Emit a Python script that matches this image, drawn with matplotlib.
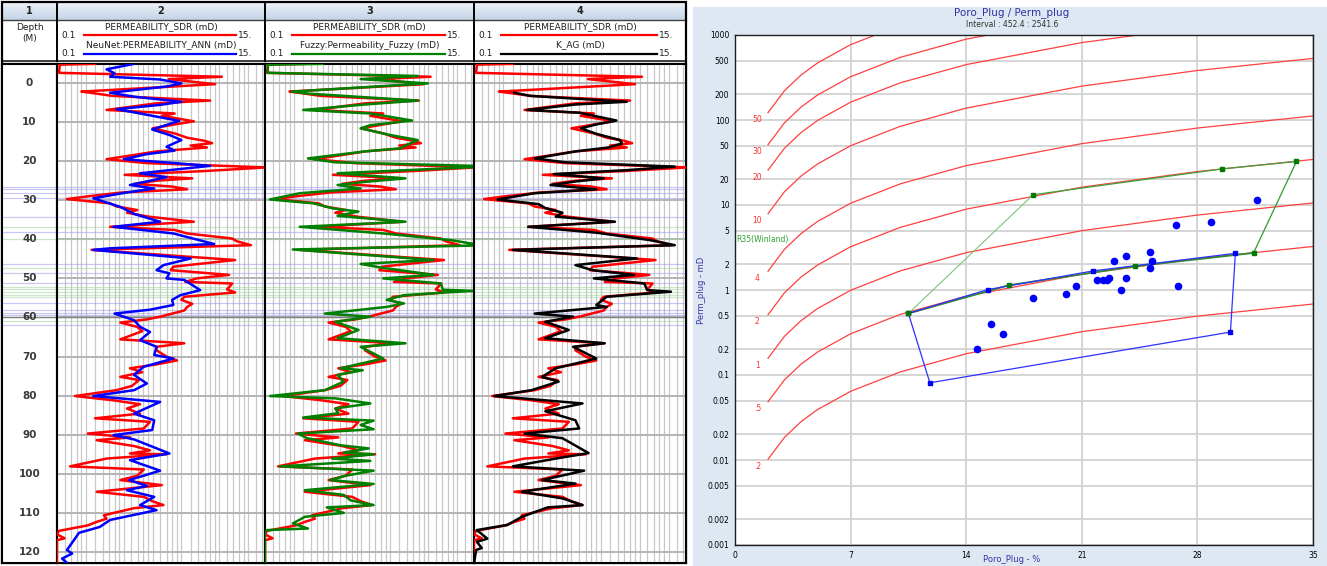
import numpy as np
import matplotlib
matplotlib.use("Agg")
import matplotlib.pyplot as plt
from matplotlib.patches import Rectangle

# ---------------------------------------------------------------- log data
# depth (m) / permeability (mD) pairs
sdr_depth = [-4.9, -4.7, -2.6, -1.6, -1.0, 0.3, 2.2, 2.6, 3.3, 4.5, 5.2, 6.9, 7.8, 8.4, 9.8,
             10.5, 11.6, 12.9, 14.0, 14.8, 15.4, 16.0, 16.5, 17.5, 18.5, 19.5, 20.5, 21.6,
             22.5, 23.5, 24.4, 25.0, 25.8, 26.5, 27.2, 28.0, 29.0, 29.7, 30.8, 31.6, 32.5,
             33.2, 34.2, 35.5, 36.8, 37.6, 38.5, 39.8, 40.5, 41.5, 42.7, 45.3, 47.0, 47.9,
             49.1, 50.0, 50.9, 51.3, 52.3, 52.8, 53.6, 54.7, 55.5, 56.5, 57.3, 58.2, 59.8,
             60.5, 61.3, 62.4, 63.5, 65.6, 66.6, 67.5, 68.4, 70.0, 71.0, 72.0, 73.0, 74.0,
             75.2, 76.0, 77.5, 78.6, 80.1, 81.2, 82.2, 83.3, 84.6, 85.8, 86.7, 88.4, 89.7,
             90.7, 91.4, 92.9, 94.0, 94.8, 95.0, 96.1, 98.1, 98.9, 100.5, 101.6, 102.9,
             104.6, 105.9, 107.0, 108.0, 108.8, 110.6, 111.5, 112.3, 113.2, 114.6, 115.5,
             116.5, 117.0, 123.0]
sdr_perm = [0.25, 0.107, 0.105, 5.3, 1.48, 4.5, 0.18, 0.24, 0.38, 4.0, 1.1, 0.33, 1.7, 1.25, 2.7,
            1.8, 1.0, 1.7, 2.3, 3.5, 4.2, 2.5, 3.7, 1.1, 0.61, 0.33, 0.87, 15.5,
            3.7, 0.51, 2.6, 1.1, 0.64, 1.6, 2.3, 0.48, 0.21, 0.127, 0.36, 0.42, 0.69,
            0.54, 0.91, 2.7, 0.36, 1.7, 2.3, 6.8, 7.6, 10.7, 0.23, 7.3, 1.65, 1.55,
            6.3, 2.9, 2.2, 6.8, 6.3, 6.0, 7.3, 2.15, 2.0, 2.6, 2.3, 2.15, 1.2,
            0.87, 0.46, 0.69, 0.78, 0.46, 2.15, 1.1, 1.1, 1.4, 1.8, 1.1, 0.58, 0.78,
            0.46, 0.72, 0.61, 0.42, 0.154, 0.39, 0.74, 0.54, 0.74, 0.25, 0.94, 0.81, 0.21,
            0.58, 0.26, 0.64, 0.94, 0.58, 1.4, 0.33, 0.137, 0.81, 0.69, 0.46, 1.25,
            0.26, 0.81, 0.99, 1.3, 0.64, 0.31, 0.33, 0.26, 0.21, 0.105, 0.10,
            0.12, 0.10, 0.10]

ann_depth = [-4.9, -3.5, -2.5, -1.6, -0.9, 0.1, 0.9, 2.5, 3.5, 4.8, 5.6, 6.7, 7.8, 9.7, 11.9,
             13.3, 14.6, 16.3, 17.3, 18.2, 19.5, 21.2, 23.1, 24.1, 26.1, 27.0, 28.0, 29.5,
             31.7, 33.5, 35.5, 36.8, 38.5, 41.2, 42.3, 42.7, 44.9, 46.6, 47.9, 48.7, 50.0,
             50.4, 53.0, 54.3, 55.5, 56.8, 58.0, 59.0, 60.7, 62.4, 63.7, 65.8, 67.5, 69.6,
             70.5, 72.6, 74.7, 76.9, 78.6, 80.1, 81.6, 84.6, 86.3, 88.8, 90.1, 91.2, 94.8,
             96.5, 99.2, 101.6, 103.1, 104.2, 105.9, 108.0, 109.3, 111.8, 113.6, 115.1,
             117.0, 119.5, 120.4, 121.7, 123.0]
ann_perm = [0.64, 0.33, 0.40, 0.36, 1.2, 2.0, 1.4, 0.36, 0.64, 2.0, 1.2, 0.42, 0.74, 1.9, 0.99,
            1.5, 2.0, 1.4, 1.7, 0.87, 0.5, 4.0, 0.74, 1.4, 0.58, 1.04, 0.54, 0.24,
            0.46, 0.64, 1.2, 0.39, 1.65, 4.4, 0.36, 0.24, 2.5, 1.3, 1.1, 1.5, 1.4,
            2.15, 3.15, 1.95, 1.6, 1.65, 0.94, 0.40, 0.64, 0.74, 0.94, 0.74, 1.1, 1.04,
            1.65, 0.81, 0.64, 0.87, 0.64, 0.24, 1.2, 0.64, 1.04, 0.99, 0.39, 0.64, 1.5,
            0.58, 1.2, 0.57, 0.87, 0.54, 1.04, 0.74, 1.1, 0.36, 0.28, 0.17,
            0.15, 0.127, 0.144, 0.113, 0.13]

fuzzy_depth = [-4.9, -4.7, -2.6, -1.8, -1.0, 0.1, 2.2, 2.7, 4.5, 5.5, 6.9, 7.8, 9.6, 10.8, 11.6,
               13.3, 14.6, 16.0, 16.7, 17.5, 19.3, 20.3, 21.2, 21.5, 22.2, 23.1, 24.4, 25.3,
               26.1, 27.0, 28.2, 29.8, 30.8, 32.1, 32.9, 34.0, 35.5, 36.8, 38.5, 40.2, 41.2,
               41.6, 42.6, 45.3, 46.3, 47.2, 49.1, 50.0, 51.3, 52.9, 53.2, 53.6, 54.3, 55.5,
               56.4, 57.3, 59.0, 59.8, 61.1, 63.2, 65.3, 66.6, 67.5, 70.5, 73.0, 73.5, 74.7,
               76.4, 78.6, 80.1, 80.7, 82.0, 83.3, 84.5, 85.6, 86.4, 87.5, 88.6, 89.7, 90.9,
               92.7, 93.5, 94.6, 95.0, 96.1, 96.7, 98.1, 99.2, 100.5, 101.6, 102.6, 104.2,
               105.4, 106.8, 108.0, 108.6, 110.0, 111.0, 112.7, 114.0, 114.4, 115.0, 123.0]
fuzzy_perm = [0.40, 0.107, 0.107, 3.9, 0.99, 4.95, 0.19, 0.275, 3.9, 1.1, 0.25, 1.25, 3.4, 1.25, 0.99,
              2.0, 3.9, 2.9, 2.6, 1.1, 0.28, 0.54, 15.0, 15.0, 3.7, 0.57, 2.9, 1.1,
              0.57, 0.99, 0.23, 0.113, 0.32, 0.51, 0.94, 0.57, 2.9, 0.23, 1.7, 8.6, 15.0,
              14.5, 0.195, 5.7, 0.99, 1.6, 5.7, 1.7, 6.8, 7.1, 15.0, 7.6, 2.8, 1.85,
              2.8, 1.85, 0.42, 1.25, 0.54, 0.94, 0.57, 2.9, 0.99, 1.7, 0.61, 1.04, 0.57,
              0.66, 0.42, 0.113, 0.54, 1.25, 0.54, 0.58, 0.25, 1.35, 0.99, 1.35, 0.22, 0.275,
              0.61, 1.2, 0.66, 1.35, 0.50, 1.25, 0.144, 1.35, 0.69, 0.48, 1.35, 0.26,
              0.66, 0.78, 1.35, 0.44, 0.66, 0.26, 0.195, 0.28, 0.105, 0.10, 0.10]

kag_depth = [2.5, 3.3, 4.8, 5.5, 6.9, 7.6, 9.6, 10.6, 11.6, 13.0, 14.6, 15.5, 16.5, 17.5, 19.3,
             20.3, 21.4, 22.3, 23.3, 24.4, 25.2, 26.1, 27.2, 28.2, 29.8, 31.0, 32.0, 33.2,
             34.2, 35.5, 36.8, 38.3, 40.2, 41.5, 42.7, 44.9, 46.6, 47.9, 49.1, 50.0, 51.3,
             53.0, 53.4, 54.7, 56.8, 57.3, 59.0, 59.8, 61.1, 63.2, 65.3, 66.6, 67.5, 70.5,
             73.0, 75.2, 76.4, 78.6, 80.1, 82.0, 84.0, 86.3, 88.4, 89.7, 90.9, 94.7, 96.1,
             98.1, 99.2, 101.6, 102.5, 104.6, 106.3, 108.0, 108.6, 111.0, 113.1, 114.4,
             116.6, 117.4, 119.0, 119.5, 123.0]
kag_perm = [0.26, 0.38, 3.7, 1.1, 0.35, 1.2, 2.9, 1.8, 1.25, 1.8, 3.15, 3.3, 2.4, 1.1, 0.42,
            0.87, 11.5, 3.7, 0.66, 2.15, 1.1, 0.61, 1.8, 0.42, 0.175, 0.46, 0.54, 0.81,
            0.69, 2.8, 0.36, 1.8, 6.4, 11.5, 0.25, 4.7, 1.1, 1.65, 4.4, 1.7, 5.6,
            6.0, 10.5, 2.3, 1.8, 2.3, 0.42, 1.04, 0.54, 0.94, 0.54, 2.2, 1.04, 1.8,
            0.69, 0.50, 0.74, 0.39, 0.162, 1.3, 0.54, 1.1, 1.2, 0.33, 0.81, 1.5, 0.69,
            0.25, 1.35, 0.50, 1.1, 0.31, 0.81, 1.3, 0.57, 0.31, 0.22, 0.107,
            0.137, 0.107, 0.12, 0.105, 0.10]

# core sample depths flagged across the tracks
core_blue_depths = [26.5, 27.2, 28.1, 29.5, 34.2, 38.0, 46.2, 48.7, 51.3, 56.4, 58.1, 58.8, 59.4, 62.0]
core_green_depths = [36.8, 40.0, 47.4, 52.1, 52.8, 53.4, 54.3, 54.7, 59.9, 61.0]
depth_labels = list(range(0, 130, 10))

# ---------------------------------------------------------------- crossplot data
plug_poro = [31.6, 28.8, 26.7, 25.15, 23.7, 22.95, 25.25, 25.15, 23.65, 22.65, 22.5, 22.3,
             21.9, 26.8, 20.65, 20.05, 23.35, 18.05, 15.5, 16.25, 14.65]
plug_perm = [11.5, 6.35, 5.85, 2.8, 2.5, 2.2, 2.2, 1.8, 1.4, 1.4, 1.3, 1.3,
             1.3, 1.1, 1.1, 0.9, 1.0, 0.8, 0.4, 0.3, 0.2]

blue_poly_poro = [10.5, 15.3, 21.7, 30.3, 30.0, 11.8, 10.5]
blue_poly_perm = [0.53, 1.01, 1.68, 2.7, 0.32, 0.081, 0.53]
green_poly_poro = [10.5, 16.6, 24.2, 31.4, 34.0, 29.5, 18.05]
green_poly_perm = [0.53, 1.14, 1.9, 2.73, 32.5, 26.6, 13.2]

r35_values = [0.2, 0.5, 1, 2, 4, 10, 20, 30, 50]
r35_labels = [".2", ".5", "1", "2", "4", "10", "20", "30", "50"]
r35_poro_nodes = [2, 3, 4, 5, 7, 10, 14, 21, 28, 35]

perm_ticks = [1000, 500, 200, 100, 50, 20, 10, 5, 2, 1, 0.5, 0.2, 0.1, 0.05, 0.02, 0.01,
              0.005, 0.002, 0.001]
perm_tick_labels = ["1000", "500", "200", "100", "50", "20", "10", "5", "2", "1", "0.5", "0.2",
                    "0.1", "0.05", "0.02", "0.01", "0.005", "0.002", "0.001"]
poro_ticks = [0, 7, 14, 21, 28, 35]

# vertical grid of the permeability tracks (mD)
track_grid = [0.12, 0.14, 0.16, 0.18, 0.2, 0.25, 0.3, 0.35, 0.4, 0.45, 0.5, 0.6, 0.7, 0.8, 0.9,
              1.0, 1.2, 1.4, 1.6, 1.8, 2.0, 2.5, 3.0, 3.5, 4.0, 4.5, 5.0, 6.0, 7.0, 8.0, 9.0,
              10.0, 12.0, 14.0]

# ---------------------------------------------------------------- figure
W, H = 1327, 566
fig = plt.figure(figsize=(W / 100, H / 100), dpi=100)
plt.rcParams['font.family'] = ['DejaVu Sans']


def pax(x0, y0, x1, y1, **kw):
    return fig.add_axes([x0 / W, 1 - y1 / H, (x1 - x0) / W, (y1 - y0) / H], **kw)


bg = pax(0, 0, W, H)
bg.set_xlim(0, W)
bg.set_ylim(H, 0)
bg.axis('off')

# ---- log layout header
track_x = [2, 57, 265, 474, 686]
hdr_cmap = matplotlib.colors.LinearSegmentedColormap.from_list('hdr', ['#eaf0f7', '#c4d4e6'])
for i in range(4):
    x0, x1 = track_x[i], track_x[i + 1]
    grad = np.linspace(0, 1, 20).reshape(-1, 1)
    bg.imshow(grad, extent=(x0, x1, 20, 3), cmap=hdr_cmap, aspect='auto', zorder=1)
    bg.text((x0 + x1) / 2, 11.5, str(i + 1), ha='center', va='center', fontsize=7,
            fontweight='bold', color='#202020', zorder=3)
bg.add_patch(Rectangle((2, 2), 684, 561, fill=False, lw=1.6, ec='black', zorder=5))
bg.plot([2, 686], [20, 20], color='#404040', lw=1, zorder=4)
bg.plot([2, 686], [61, 61], color='#303030', lw=1.3, zorder=4)
bg.plot([2, 686], [64, 64], color='#303030', lw=1.3, zorder=4)
bg.add_patch(Rectangle((2, 61), 684, 3, color='#e6e6e6', zorder=2))
for x in track_x[1:-1]:
    bg.plot([x, x], [2, 61], color='black', lw=1.4, zorder=4)

bg.text(29.5, 27.5, "Depth", ha='center', va='center', fontsize=6.5, color='#202020')
bg.text(29.5, 38, "(M)", ha='center', va='center', fontsize=6.5, color='#202020')

hdr = [
    ("PERMEABILITY_SDR (mD)", "red", "NeuNet:PERMEABILITY_ANN (mD)", "blue"),
    ("PERMEABILITY_SDR (mD)", "red", "Fuzzy:Permeability_Fuzzy (mD)", "green"),
    ("PERMEABILITY_SDR (mD)", "red", "K_AG (mD)", "black"),
]
for i, (n1, c1, n2, c2) in enumerate(hdr):
    x0, x1 = track_x[i + 1], track_x[i + 2]
    xc = (x0 + x1) / 2
    for (name, col, yt, yl) in [(n1, c1, 27, 35), (n2, c2, 45, 54)]:
        bg.text(xc, yt, name, ha='center', va='center', fontsize=6.5, color='#202020')
        bg.text(x0 + 12, yl, "0.1", ha='center', va='center', fontsize=6.5, color='#202020')
        bg.text(x1 - 20, yl, "15.", ha='center', va='center', fontsize=6.5, color='#202020')
        bg.plot([x0 + 27, x1 - 29], [yl, yl], color=col, lw=1.6)

# ---- log tracks
D_TOP = (64 - 83) / 3.908
D_BOT = (563 - 83) / 3.908

t1 = pax(2, 64, 57, 563)
tracks = [pax(57, 64, 265, 563), pax(265, 64, 474, 563), pax(474, 64, 686, 563)]
for ax in [t1] + tracks:
    ax.set_ylim(D_BOT, D_TOP)
    ax.set_xticks([])
    ax.set_yticks([])
    for s in ax.spines.values():
        s.set_linewidth(1.5)
        s.set_color('black')
    for d in core_blue_depths:
        ax.axhline(d, color='#9c9cf0', lw=0.9, alpha=0.55, zorder=1)
    for d in core_green_depths:
        ax.axhline(d, color='#9fd49f', lw=0.9, alpha=0.55, zorder=1)
    ax.axhline(60, color='#808080', lw=1.0, zorder=1)

t1.set_xlim(0, 1)
for d in depth_labels:
    t1.text(0.5, d, str(d), ha='center', va='center', fontsize=7.5, fontweight='bold',
            color='#3a3a3a')

curve_sets = [
    [(sdr_depth, sdr_perm, 'red'), (ann_depth, ann_perm, 'blue')],
    [(sdr_depth, sdr_perm, 'red'), (fuzzy_depth, fuzzy_perm, 'green')],
    [(sdr_depth, sdr_perm, 'red'), (kag_depth, kag_perm, 'black')],
]
for ax, curves in zip(tracks, curve_sets):
    ax.set_xscale('log')
    ax.set_xlim(0.1, 15)
    ax.set_xticks([])
    ax.set_xticks([], minor=True)
    for g in track_grid:
        ax.axvline(g, color='#c8c8c8', lw=0.9, zorder=0)
    for d in range(0, 130, 10):
        ax.axhline(d, color='#b4b4b4', lw=1.4, zorder=0)
    for dep, val, col in curves:
        ax.plot(val, dep, color=col, lw=1.8, zorder=3, solid_joinstyle='round')

# ---- crossplot panel
bg.add_patch(Rectangle((693, 7), W - 693, H - 7, color='#dde8f3', zorder=0))
bg.text(1012, 12.5, "Poro_Plug / Perm_plug", ha='center', va='center', fontsize=7.5,
        color='#3333a0')
bg.text(1012, 24.5, "Interval : 452.4 : 2541.6", ha='center', va='center', fontsize=5.5,
        color='#303030')
bg.text(1012, 559, "Poro_Plug - %", ha='center', va='center', fontsize=6, color='#3333a0')
bg.text(702, 290, "Perm_plug - mD", ha='center', va='center', fontsize=6, color='#3333a0',
        rotation=90)

cx = pax(735, 35, 1313, 545)
cx.set_xlim(0, 35)
cx.set_yscale('log')
cx.set_ylim(0.001, 1000)
cx.set_xticks(poro_ticks)
cx.set_xticklabels([str(t) for t in poro_ticks])
cx.set_yticks(perm_ticks)
cx.set_yticklabels(perm_tick_labels)
cx.minorticks_off()
cx.tick_params(length=0, labelsize=5.5, pad=4)
cx.grid(True, color='#d2d2d2', lw=1.3)
cx.set_axisbelow(True)
for s in cx.spines.values():
    s.set_linewidth(1.0)
    s.set_color('#202020')

phi_nodes = np.array(r35_poro_nodes, dtype=float)
for r, lab in zip(r35_values, r35_labels):
    # Winland R35 relation: log R35 = 0.732 + 0.588 log k - 0.864 log phi
    k = 10 ** ((np.log10(r) - 0.732 + 0.864 * np.log10(phi_nodes)) / 0.588)
    cx.plot(phi_nodes, k, color='#ff4040', lw=0.9, zorder=2)
    cx.text(1.35, k[0] * 0.83, lab, ha='center', va='center', fontsize=5.5, color='#ff3030')
cx.text(0.05, 3.9, "R35(Winland)", ha='left', va='center', fontsize=5.5, color='#30a030')

cx.plot(green_poly_poro[3:5], green_poly_perm[3:5], color='#2f9a2f', lw=0.9, zorder=3)
cx.plot(green_poly_poro[4:], green_poly_perm[4:], color='#3aa03a', lw=0.9, zorder=3)
cx.plot([green_poly_poro[-1], green_poly_poro[0]], [green_poly_perm[-1], green_poly_perm[0]],
        color='#7cc47c', lw=0.8, zorder=3)
cx.plot(green_poly_poro[:4], green_poly_perm[:4], color='#2f8a2f', lw=1.3, zorder=3)
cx.plot(blue_poly_poro, blue_poly_perm, color='#3030ff', lw=0.9, zorder=4)
cx.plot(blue_poly_poro[:-1], blue_poly_perm[:-1], 's', color='#0000ff', ms=3.5, zorder=5)
cx.plot(green_poly_poro, green_poly_perm, 's', color='#007a00', ms=3.5, zorder=6)
cx.plot(plug_poro, plug_perm, 'o', color='#0000ff', ms=4.5, mec='#0000ff', zorder=7)

fig.savefig("out.png", dpi=100)
